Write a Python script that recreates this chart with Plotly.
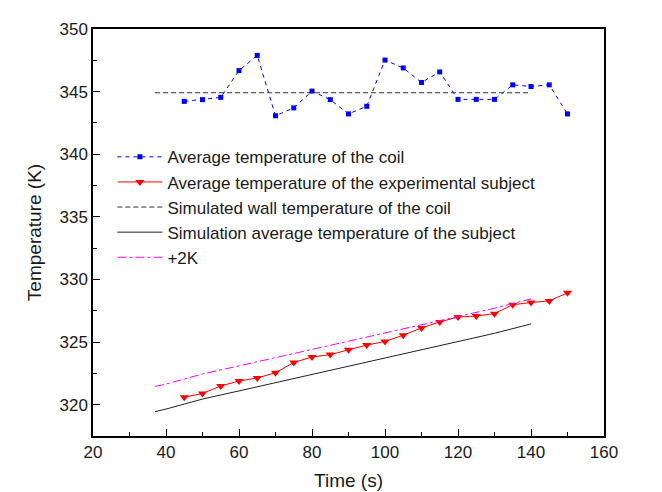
import plotly.graph_objects as go

# Experimental data
time_exp = [45, 50, 55, 60, 65, 70, 75, 80, 85, 90, 95, 100, 105, 110, 115, 120, 125, 130, 135, 140, 145, 150]
coil_temp = [344.22, 344.36, 344.54, 346.68, 347.89, 343.07, 343.70, 345.04, 344.36, 343.22, 343.83,
             347.52, 346.89, 345.73, 346.57, 344.38, 344.38, 344.38, 345.54, 345.41, 345.54, 343.22]
subject_temp = [320.60, 320.89, 321.50, 321.89, 322.13, 322.55, 323.37, 323.81, 324.00, 324.39, 324.76,
                325.05, 325.55, 326.13, 326.61, 327.00, 327.08, 327.27, 327.98, 328.16, 328.29, 328.93]

# Simulation data
time_wall = [37, 140]
wall_temp = [344.91, 344.91]
time_sim = [37, 40, 45, 50, 60, 70, 80, 90, 100, 110, 120, 130, 140]
sim_temp = [319.45, 319.65, 320.05, 320.45, 321.10, 321.75, 322.45, 323.05, 323.70, 324.35, 325.05, 325.70, 326.45]
plus2k_temp = [321.45, 321.65, 322.05, 322.45, 323.10, 323.75, 324.45, 325.05, 325.70, 326.35, 327.05, 327.70, 328.45]

FONT = "Liberation Sans, Arial, sans-serif"
TXT = "#1a1a1a"

fig = go.Figure()
fig.add_trace(go.Scatter(x=time_exp, y=coil_temp, mode="lines+markers",
                         name="Average temperature of the coil",
                         line=dict(color="#0000FF", width=1, dash="4px,4px"),
                         marker=dict(symbol="square", size=5, color="#0000FF")))
fig.add_trace(go.Scatter(x=time_exp, y=subject_temp, mode="lines+markers",
                         name="Average temperature of the experimental subject",
                         line=dict(color="#FF0000", width=1),
                         marker=dict(symbol="triangle-down", size=8, color="#FF0000")))
fig.add_trace(go.Scatter(x=time_wall, y=wall_temp, mode="lines",
                         name="Simulated wall temperature of the coil",
                         line=dict(color="#333333", width=1, dash="5px,3px")))
fig.add_trace(go.Scatter(x=time_sim, y=sim_temp, mode="lines",
                         name="Simulation average temperature of the subject",
                         line=dict(color="#222222", width=1)))
fig.add_trace(go.Scatter(x=time_sim, y=plus2k_temp, mode="lines",
                         name="+2K",
                         line=dict(color="#FF00FF", width=1, dash="dashdot")))

axis_common = dict(showline=True, linecolor="black", linewidth=1.5, mirror=True,
                   ticks="inside", ticklen=7, tickwidth=1, tickcolor="black",
                   showgrid=False, zeroline=False,
                   tickfont=dict(family=FONT, size=17, color=TXT))

fig.update_xaxes(range=[20, 160], dtick=20, tick0=20,
                 minor=dict(ticks="inside", ticklen=4, dtick=10, tick0=20, tickcolor="black"),
                 title=dict(text="Time (s)", font=dict(family=FONT, size=19, color=TXT), standoff=13),
                 **axis_common)
fig.update_yaxes(range=[317.5, 350], dtick=5, tick0=320,
                 minor=dict(ticks="inside", ticklen=4, dtick=2.5, tick0=320, tickcolor="black"),
                 title=dict(text="Temperature (K)", font=dict(family=FONT, size=19, color=TXT), standoff=13),
                 **axis_common)

fig.update_layout(width=662, height=492,
                  margin=dict(l=85, r=66, t=17, b=64),
                  plot_bgcolor="white", paper_bgcolor="white",
                  font=dict(family=FONT, size=17, color=TXT),
                  legend=dict(x=0.038, y=0.729, xanchor="left", yanchor="top",
                              bgcolor="rgba(0,0,0,0)", borderwidth=0,
                              font=dict(family=FONT, size=17, color=TXT),
                              tracegroupgap=0, itemwidth=45))

fig.write_html("out.html")
